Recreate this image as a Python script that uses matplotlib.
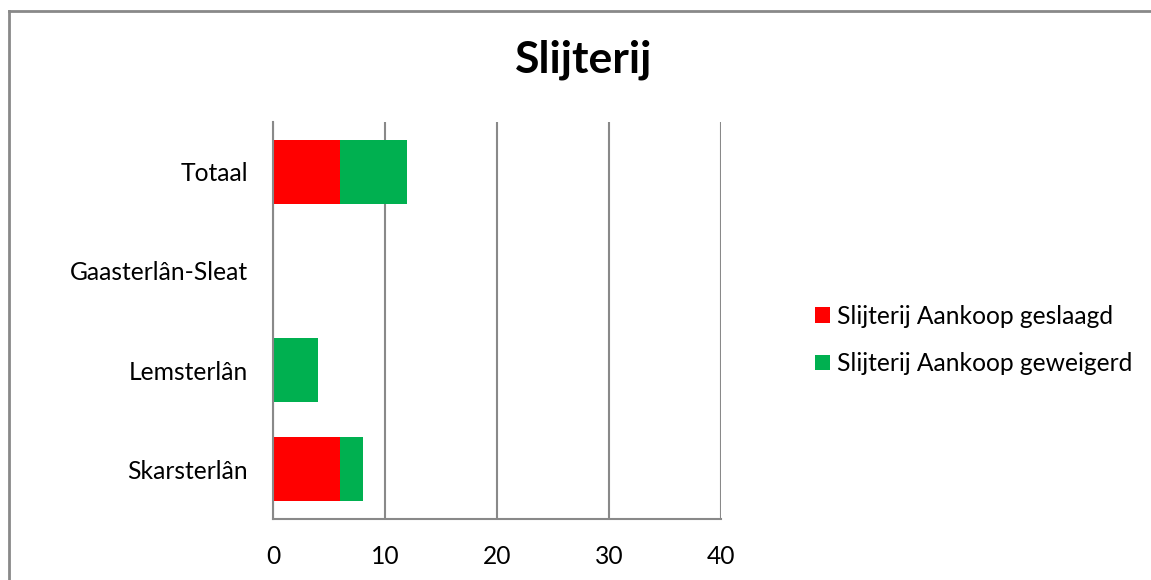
import matplotlib
matplotlib.use("Agg")
import matplotlib.pyplot as plt
from matplotlib.lines import Line2D

plt.rcParams['font.family'] = ['Lato', 'DejaVu Sans']

# data (bottom -> top as in the chart)
categories = ['Skarsterlân', 'Lemsterlân', 'Gaasterlân-Sleat', 'Totaal']
geslaagd = [6, 0, 0, 6]
geweigerd = [2, 4, 0, 6]
series_names = ['Slijterij Aankoop geslaagd', 'Slijterij Aankoop geweigerd']
xticks = [0, 10, 20, 30, 40]

red = '#FF0000'
green = '#00B050'
grey = '#898989'

fig = plt.figure(figsize=(11.51, 5.80), dpi=100)
ax = fig.add_axes([273/1151, 1-519/580, (721-273)/1151, (519-122)/580])

ypos = range(len(categories))
b1 = ax.barh(ypos, geslaagd, height=0.645, color=red, label=series_names[0])
b2 = ax.barh(ypos, geweigerd, left=geslaagd, height=0.645, color=green, label=series_names[1])

ax.set_xlim(0, 40)
ax.set_ylim(-0.5, len(categories) - 0.5)
ax.set_xticks(xticks)
ax.set_yticks(list(ypos))
ax.set_yticklabels(categories)
ax.tick_params(axis='both', length=0, labelsize=17.7, pad=18, colors='black')
ax.tick_params(axis='x', pad=19)

ax.xaxis.grid(True, color=grey, linewidth=1.5)
ax.set_axisbelow(True)
for s in ['top', 'right']:
    ax.spines[s].set_visible(False)
for s in ['left', 'bottom']:
    ax.spines[s].set_color(grey)
    ax.spines[s].set_linewidth(1.5)

fig.text(584/1151, 1-60/580, 'Slijterij', ha='center', va='center',
         fontsize=32, fontweight='bold')

fig.legend(handles=[b1, b2], loc='center left',
           bbox_to_anchor=(803/1151, 1-340/580), frameon=False,
           fontsize=17.7, handlelength=0.6, handleheight=0.6,
           handletextpad=0.3, labelspacing=1.0, borderpad=0)

# chart area border (only left and top visible in the crop)
fig.add_artist(Line2D([8.5/1151, 8.5/1151], [0, 1-10.5/580], color=grey, lw=2))
fig.add_artist(Line2D([8.5/1151, 1], [1-10.5/580, 1-10.5/580], color=grey, lw=2))

fig.savefig('out.png', dpi=100, facecolor='white')
